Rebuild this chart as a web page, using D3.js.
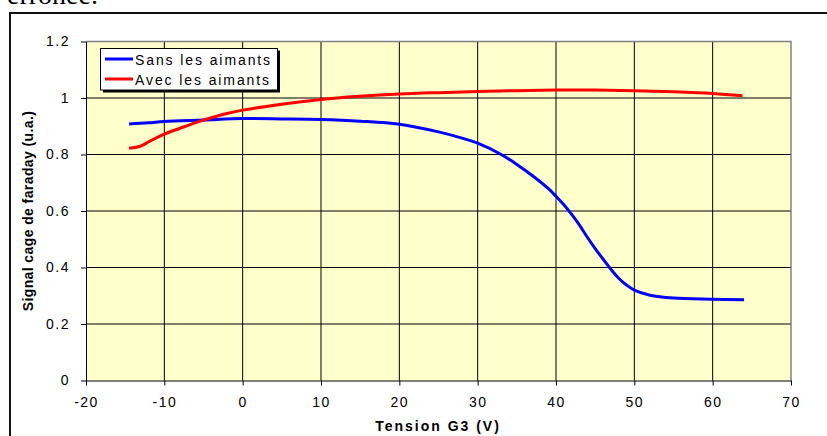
<!DOCTYPE html>
<meta charset="utf-8">
<style>
  body { margin: 0; background: #fff; }
  svg { display: block; font-family: "Liberation Sans", Arial, sans-serif; }
</style>

<!-- Load d3.js -->
<script src="https://d3js.org/d3.v7.min.js"></script>

<!-- Create a div where the graph will take place -->
<div id="my_dataviz"></div>

<script>

    // data
    var xTicks = [-20, -10, 0, 10, 20, 30, 40, 50, 60, 70];
    var yTicks = [0, 0.2, 0.4, 0.6, 0.8, 1, 1.2];
    var seriesNames = ["Sans les aimants", "Avec les aimants"];
    var seriesColors = ["#0000ff", "#ff0000"];

    var sansTension = [-14.5, -12, -10, -5, 0, 5, 10, 15, 20, 25, 28, 30, 33, 35, 37, 39, 40, 41, 42, 43, 44, 45, 46, 47, 48, 49, 50, 52, 55, 60, 64];
    var sansSignal  = [0.908, 0.912, 0.917, 0.922, 0.927, 0.926, 0.924, 0.918, 0.907, 0.880, 0.858, 0.840, 0.800, 0.765, 0.725, 0.680, 0.652, 0.622, 0.588, 0.550, 0.507, 0.467, 0.430, 0.394, 0.362, 0.338, 0.320, 0.302, 0.292, 0.288, 0.286];

    var avecTension = [-14.5, -13, -12, -10, -8, -6, -4, -2, 0, 5, 10, 15, 20, 25, 30, 35, 40, 45, 50, 55, 60, 63.8];
    var avecSignal  = [0.822, 0.830, 0.845, 0.872, 0.893, 0.913, 0.930, 0.945, 0.957, 0.978, 0.995, 1.006, 1.014, 1.019, 1.023, 1.026, 1.028, 1.028, 1.026, 1.022, 1.016, 1.008];

    // set the dimensions of the page and plot area
    var W = 827, H = 436;
    var plot = {left: 86, top: 41.5, right: 791, bottom: 380.5};

    var svg = d3.select("#my_dataviz")
      .append("svg")
        .attr("width", W)
        .attr("height", H);

    // bit of document text cut off above the chart
    svg.append("text")
      .attr("x", 7)
      .attr("y", 4)
      .style("font-family", "'Liberation Serif', 'Times New Roman', serif")
      .style("font-size", "28px")
      .text("erronée.");

    // outer frame of the chart (runs off the right and bottom)
    svg.append("path")
      .attr("d", "M10," + (H + 5) + "V13H" + (W + 5))
      .attr("fill", "none")
      .attr("stroke", "#111")
      .attr("stroke-width", 2);

    var x = d3.scaleLinear()
      .domain([-20, 70])
      .range([plot.left, plot.right]);

    var y = d3.scaleLinear()
      .domain([0, 1.2])
      .range([plot.bottom, plot.top]);

    // plot background
    svg.append("rect")
      .attr("x", plot.left)
      .attr("y", plot.top)
      .attr("width", plot.right - plot.left)
      .attr("height", plot.bottom - plot.top)
      .attr("fill", "#ffffcc");

    // grid
    svg.append("g")
      .selectAll("line")
      .data(xTicks.slice(1, -1))
      .enter()
      .append("line")
        .attr("x1", function(d) { return x(d); })
        .attr("x2", function(d) { return x(d); })
        .attr("y1", plot.top)
        .attr("y2", plot.bottom)
        .attr("stroke", "#000")
        .attr("stroke-width", 1);

    svg.append("g")
      .selectAll("line")
      .data(yTicks.slice(1, -1))
      .enter()
      .append("line")
        .attr("x1", plot.left)
        .attr("x2", plot.right)
        .attr("y1", function(d) { return y(d); })
        .attr("y2", function(d) { return y(d); })
        .attr("stroke", "#000")
        .attr("stroke-width", 1);

    // grey border top and right
    svg.append("path")
      .attr("d", "M" + plot.left + "," + plot.top + "H" + plot.right + "V" + plot.bottom)
      .attr("fill", "none")
      .attr("stroke", "#808080")
      .attr("stroke-width", 1.5);

    // axes
    var xAxis = svg.append("g")
      .attr("transform", "translate(0," + plot.bottom + ")")
      .call(d3.axisBottom(x).tickValues(xTicks).tickSize(5).tickSizeOuter(0).tickPadding(12)
        .tickFormat(function(d) { return String(d); }));

    var yAxis = svg.append("g")
      .attr("transform", "translate(" + plot.left + ",0)")
      .call(d3.axisLeft(y).tickValues(yTicks).tickSize(5).tickSizeOuter(0).tickPadding(11)
        .tickFormat(function(d) { return String(d); }));

    [xAxis, yAxis].forEach(function(a) {
      a.selectAll("path, line").attr("stroke", "#000");
      a.selectAll("text")
        .attr("fill", "#000")
        .style("font-family", "'Liberation Sans', Arial, sans-serif")
        .style("font-size", "14px")
        .style("letter-spacing", "1.5px");
    });

    // axis titles
    svg.append("text")
      .attr("x", 438)
      .attr("y", 430.5)
      .attr("text-anchor", "middle")
      .style("font-weight", "bold")
      .style("font-size", "14px")
      .style("letter-spacing", "2px")
      .text("Tension G3 (V)");

    svg.append("text")
      .attr("transform", "translate(33," + ((plot.top + plot.bottom) / 2) + ") rotate(-90)")
      .attr("text-anchor", "middle")
      .style("font-weight", "bold")
      .style("font-size", "14px")
      .style("letter-spacing", "0.4px")
      .text("Signal cage de faraday (u.a.)");

    // curves (smoothed like the spreadsheet)
    var line = d3.line()
      .x(function(d) { return x(d[0]); })
      .y(function(d) { return y(d[1]); })
      .curve(d3.curveCatmullRom.alpha(0.5));

    var series = [d3.zip(sansTension, sansSignal), d3.zip(avecTension, avecSignal)];

    svg.append("g")
      .selectAll("path")
      .data(series)
      .enter()
      .append("path")
        .attr("d", line)
        .attr("fill", "none")
        .attr("stroke", function(d, i) { return seriesColors[i]; })
        .attr("stroke-width", 3)
        .attr("stroke-linejoin", "round");

    // legend box with shadow
    var legend = svg.append("g");
    legend.append("rect")
      .attr("x", 103).attr("y", 50.5)
      .attr("width", 177).attr("height", 42)
      .attr("fill", "#000");
    legend.append("rect")
      .attr("x", 100.5).attr("y", 48.5)
      .attr("width", 177).attr("height", 41.5)
      .attr("fill", "#fff")
      .attr("stroke", "#000")
      .attr("stroke-width", 1);

    seriesNames.forEach(function(name, i) {
      var ly = 59 + i * 20;
      legend.append("line")
        .attr("x1", 105).attr("x2", 133)
        .attr("y1", ly).attr("y2", ly)
        .attr("stroke", seriesColors[i])
        .attr("stroke-width", 3);
      legend.append("text")
        .attr("x", 135)
        .attr("y", ly + 6)
        .style("font-size", "14px")
        .style("letter-spacing", "1.9px")
        .text(name);
    });

</script>
